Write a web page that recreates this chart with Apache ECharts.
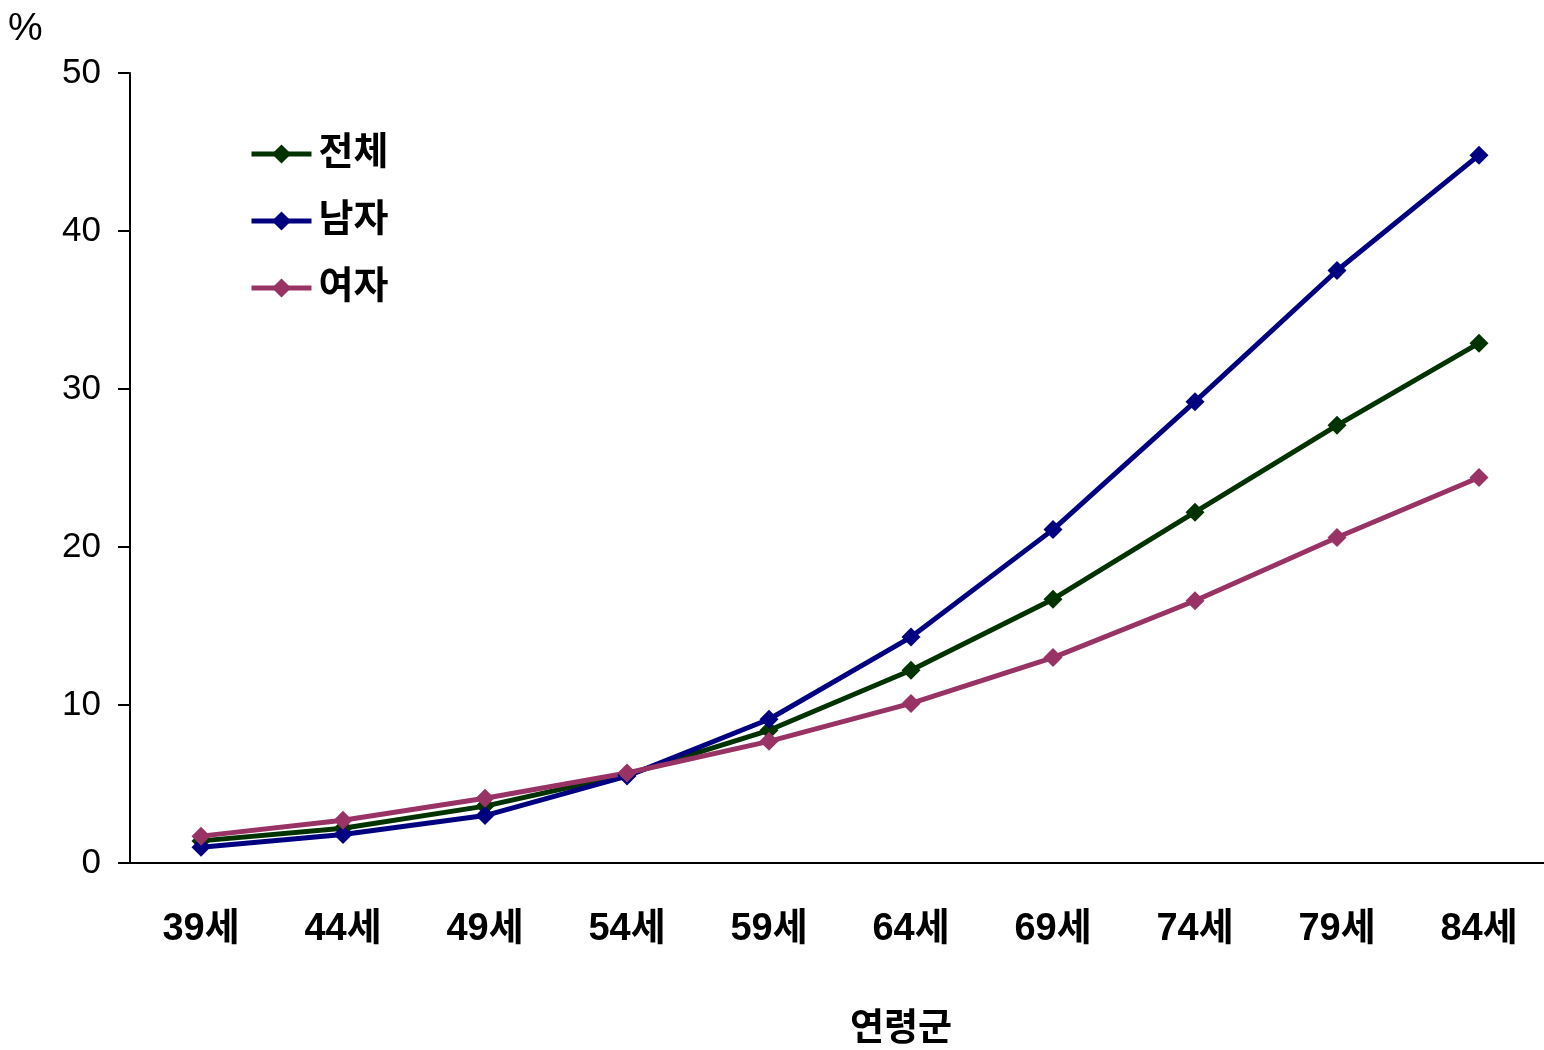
<!DOCTYPE html>
<html><head><meta charset="utf-8">
<script src="https://cdn.jsdelivr.net/npm/echarts@6/dist/echarts.min.js"></script>
<style>html,body{margin:0;padding:0;background:#fff;overflow:hidden}#c{width:1544px;height:1050px}</style>
</head><body><div id="c"></div>
<script>
const categories = ['39세','44세','49세','54세','59세','64세','69세','74세','79세','84세'];
const total = [1.4, 2.2, 3.6, 5.6, 8.4, 12.2, 16.7, 22.2, 27.7, 32.9];
const male = [1.0, 1.8, 3.0, 5.5, 9.1, 14.3, 21.1, 29.2, 37.5, 44.8];
const female = [1.7, 2.7, 4.1, 5.7, 7.7, 10.1, 13.0, 16.6, 20.6, 24.4];
const seriesNames = ['전체','남자','여자'];
const FONT = '"Liberation Sans", Arial, "Noto Sans CJK KR", sans-serif';
const chart = echarts.init(document.getElementById('c'), null, {width:1544, height:1050});
function mk(name, data, color){
  return {name, type:'line', data, symbol:'diamond', symbolSize:19,
    lineStyle:{color, width:5}, itemStyle:{color}, emphasis:{disabled:true}};
}
chart.setOption({
  animation:false,
  backgroundColor:'#fff',
  grid:{left:130, top:73, width:1420, height:790, outerBoundsMode:'none', containLabel:false},
  legend:{orient:'vertical', left:244, top:130, itemWidth:60, itemHeight:24, itemGap:29,
    lineStyle:{width:5},
    textStyle:{fontFamily:FONT, fontSize:38, fontWeight:'bold', color:'#000', padding:[0,0,0,2]},
    data:seriesNames},
  xAxis:{type:'category', data:categories,
    name:'연령군', nameLocation:'middle', nameGap:148,
    nameTextStyle:{fontFamily:FONT, fontSize:37, fontWeight:'bold', color:'#000', padding:[0,0,0,122]},
    axisLine:{lineStyle:{color:'#000', width:2}},
    axisTick:{inside:true, length:12, lineStyle:{color:'#000', width:2}},
    axisLabel:{margin:48, fontFamily:FONT, fontSize:38, fontWeight:'bold', color:'#000'}},
  yAxis:{type:'value', min:0, max:50, interval:10,
    name:'%', nameLocation:'end', nameGap:0,
    nameTextStyle:{fontFamily:FONT, fontSize:39, color:'#000', align:'left', padding:[0,0,24,-122]},
    axisLine:{show:true, lineStyle:{color:'#000', width:2}},
    axisTick:{show:true, length:12, lineStyle:{color:'#000', width:2}},
    splitLine:{show:false},
    axisLabel:{margin:29, fontFamily:FONT, fontSize:35, color:'#000'}},
  series:[mk('전체', total, '#003300'), mk('남자', male, '#000080'), mk('여자', female, '#993366')]
});
</script></body></html>
